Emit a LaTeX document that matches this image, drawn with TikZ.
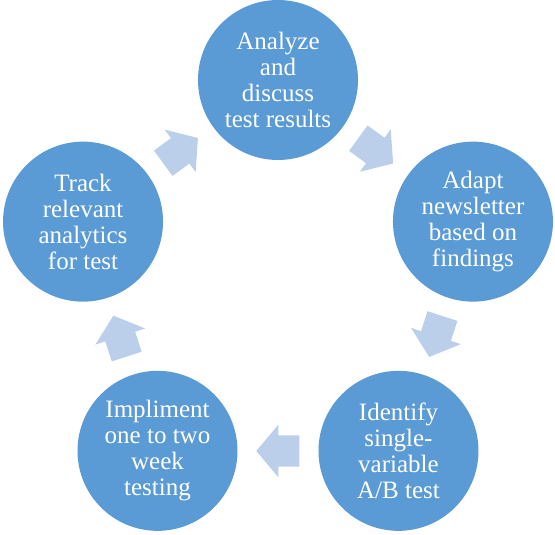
\documentclass[tikz,border=0pt]{standalone}
\usepackage{fontspec}
\setmainfont{Liberation Serif}
\usetikzlibrary{shapes.arrows,calc}
\definecolor{stepblue}{RGB}{91,155,213}
\definecolor{arrowblue}{RGB}{187,206,234}

\begin{document}
\begin{tikzpicture}
    \tikzstyle{step circle}=[
        fill = stepblue,
        text = white,
        minimum size = 160pt,
        inner sep = 0pt,
        circle,
        align = center,
        font = \fontsize{25}{26}\selectfont
    ]
    \tikzstyle{cycle arrow}=[
        fill = arrowblue,
        single arrow,
        inner sep = 0pt,
        text height = 31pt,
        text depth = 0pt,
        minimum height = 43pt,
        single arrow head extend = 10.5pt,
        single arrow tip angle = 100,
        anchor = tail
    ]

    \useasboundingbox (-278pt, -250pt) rectangle (277pt, 285pt);

	\node[step circle]   (analyze) at (90:205pt)    {Analyze\\and\\discuss\\test results};
	\node[step circle]   (adapt)   at (18:205pt)    {Adapt\\newsletter\\based on\\findings};
	\node[step circle]   (identify) at (-54:205pt)  {Identify\\single-\\variable\\A/B test};
	\node[step circle]   (impl)    at (-126:205pt)  {Impliment\\one to two\\week\\testing};
	\node[step circle]   (track)   at (162:205pt)   {Track\\relevant\\analytics\\for test};

	% arrows placed by their tail, half a length behind the chord midpoint
	\node[cycle arrow, rotate=-36]  (a1) at ($(54:166pt)+(144:21.5pt)$)   {};
	\node[cycle arrow, rotate=-108] (a2) at ($(-18:166pt)+(72:21.5pt)$)   {};
	\node[cycle arrow, rotate=180]  (a3) at ($(-90:166pt)+(0:21.5pt)$)    {};
	\node[cycle arrow, rotate=108]  (a4) at ($(-162:166pt)+(-72:21.5pt)$) {};
	\node[cycle arrow, rotate=36]   (a5) at ($(126:166pt)+(216:21.5pt)$)  {};

	\end{tikzpicture}
\end{document}
